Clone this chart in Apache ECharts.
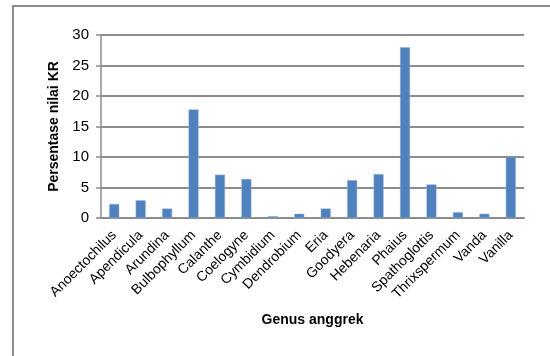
<!DOCTYPE html>
<html>
<head>
<meta charset="utf-8">
<script src="https://cdn.jsdelivr.net/npm/echarts@6/dist/echarts.min.js"></script>
<style>
  html, body { margin: 0; padding: 0; background: #fff; }
  #frame { position: absolute; left: 12px; top: 5px; width: 538px; height: 351px;
           border-left: 2px solid #8c8c8c; border-top: 2px solid #8c8c8c; box-sizing: border-box; }
  #chart { position: absolute; left: 0; top: 0; width: 550px; height: 356px; }
</style>
</head>
<body>
<div id="frame"></div>
<div id="chart"></div>
<script>
// Relative density (KR, %) per orchid genus
const genera = ['Anoectochilus', 'Apendicula', 'Arundina', 'Bulbophyllum', 'Calanthe', 'Coelogyne',
  'Cymbidium', 'Dendrobium', 'Eria', 'Goodyera', 'Hebenaria', 'Phaius', 'Spathoglottis',
  'Thrixspermum', 'Vanda', 'Vanilla'];
const krValues = [2.3, 2.9, 1.55, 17.8, 7.1, 6.4, 0.3, 0.7, 1.55, 6.2, 7.2, 28.0, 5.5, 0.95, 0.7, 10.0];
const yTicks = [0, 5, 10, 15, 20, 25, 30];

const font = "'Liberation Sans Narrow', 'Liberation Sans', Arial, sans-serif";
const chart = echarts.init(document.getElementById('chart'));
chart.setOption({
  animation: false,
  grid: { left: 101, right: 26, top: 35, bottom: 138 },
  xAxis: {
    type: 'category',
    data: genera,
    name: 'Genus anggrek',
    nameLocation: 'middle',
    nameGap: 95,
    nameTextStyle: { fontFamily: font, fontSize: 14, fontWeight: 'bold', color: '#000' },
    axisLine: { lineStyle: { color: '#8c8c8c', width: 2 } },
    axisTick: { show: false },
    axisLabel: { rotate: 45, interval: 0, margin: 15, fontFamily: font, fontSize: 14, color: '#000' }
  },
  yAxis: {
    type: 'value',
    min: yTicks[0],
    max: yTicks[yTicks.length - 1],
    interval: 5,
    name: 'Persentase nilai KR',
    nameLocation: 'middle',
    nameGap: 38,
    nameTextStyle: { fontFamily: font, fontSize: 14, fontWeight: 'bold', color: '#000' },
    axisLine: { show: true, lineStyle: { color: '#8c8c8c', width: 1.5 } },
    axisTick: { show: true, length: 5, lineStyle: { color: '#8c8c8c', width: 1.5 } },
    axisLabel: { margin: 12, fontFamily: font, fontSize: 15, color: '#000' },
    splitLine: { lineStyle: { color: '#8c8c8c', width: 2 } }
  },
  series: [{
    type: 'bar',
    data: krValues,
    barWidth: 10,
    itemStyle: { color: '#4f81bd', borderColor: '#8fb0dc', borderWidth: 0.5 }
  }]
});
</script>
</body>
</html>
